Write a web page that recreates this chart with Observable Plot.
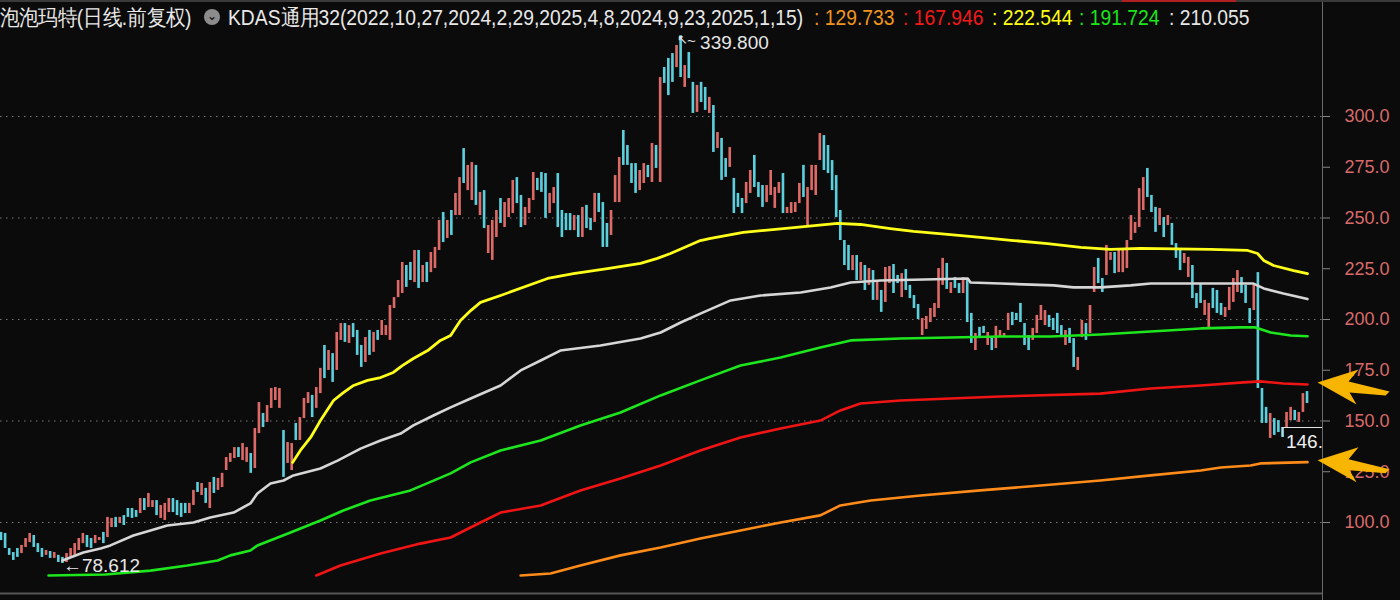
<!DOCTYPE html>
<html><head><meta charset="utf-8">
<script src="https://cdn.jsdelivr.net/npm/d3@7"></script>
<script src="https://cdn.jsdelivr.net/npm/@observablehq/plot@0.6"></script>
<style>
html,body{margin:0;padding:0;background:#0b0b0b;}
body{width:1400px;height:600px;overflow:hidden;position:relative;font-family:"Liberation Sans",Arial,sans-serif;}
#chart{position:absolute;left:0;top:0;}
#title span.t{position:absolute;top:6px;font-size:19.3px;line-height:22px;white-space:nowrap;transform:scaleY(1.12);transform-origin:0 0;}
#title span.s{font-size:19.3px;letter-spacing:0.2px;}
#icon{position:absolute;left:204px;top:9px;width:16px;height:16px;border-radius:50%;background:#8c8c8c;color:#1a1a1a;font-size:12px;line-height:14px;text-align:center;font-family:"DejaVu Sans",sans-serif;font-weight:bold;}
#topbar{position:absolute;left:0;top:0;width:1400px;height:2px;background:#3a3a3a;}
#topbar i{position:absolute;left:1122px;top:0;width:114px;height:2px;background:#b02020;}
</style></head><body>
<div id="chart"></div>
<div id="topbar"><i></i></div>
<div id="title"></div>
<script>
// ---- title texts ----
const stockTitle = "泡泡玛特(日线.前复权)";
const indicatorTitle = "KDAS通用32(2022,10,27,2024,2,29,2025,4,8,2024,9,23,2025,1,15)";
const lineLastLabels = ["129.733", "167.946", "222.544", "191.724", "210.055"];
const lineColors = ["#f0961e", "#f01a1a", "#ffff10", "#1ae61a", "#e6e6e6"];

// ---- candles (open / close), one per trading day ----
const opens = [95.1,94.6,87.2,85.2,87.2,84.7,87.7,90.1,93.6,89.6,87.2,83.8,85.7,82.3,83.8,82.8,80.3,82.8,83.8,86.2,
89.6,93.6,92.1,89.6,91.1,95.1,92.6,97.5,102.5,99.5,103.4,106.9,106.9,105.9,104.4,111.8,107.4,107.4,110.8,102.0,
101.0,104.9,111.8,110.8,109.4,109.4,104.4,108.4,119.7,113.3,116.8,106.9,122.2,115.8,117.2,125.6,129.6,131.5,136.9,130.5,
129.6,134.0,126.6,143.8,153.7,149.3,156.2,160.1,156.2,145.3,129.1,125.6,148.8,140.4,151.2,158.6,162.6,156.2,163.5,187.2,
174.9,183.2,174.9,189.7,198.0,188.2,198.0,194.6,187.2,178.8,194.6,183.8,194.6,192.1,192.1,189.7,205.4,210.8,212.8,226.6,
228.1,218.2,234.0,218.2,228.1,223.1,225.1,234.0,252.7,239.9,253.7,251.2,251.2,284.2,263.5,258.6,275.9,251.2,263.5,232.5,
229.1,240.4,259.6,245.3,250.2,252.2,269.9,261.1,246.3,252.2,258.6,269.5,272.4,271.9,252.2,257.1,271.9,253.7,252.2,252.2,
243.8,251.2,240.4,256.2,249.8,247.8,262.1,257.6,247.3,241.4,257.6,257.6,293.1,285.7,276.8,276.8,263.5,267.0,275.9,267.5,
285.7,267.5,324.1,328.6,331.0,324.1,339.8,314.3,331.5,316.8,302.0,316.8,314.3,301.5,305.4,284.2,289.2,279.3,274.9,269.5,
262.1,259.6,257.1,262.1,280.8,267.5,266.0,257.6,261.1,254.7,262.1,271.9,252.2,252.2,252.7,257.1,275.9,246.3,263.5,261.1,
278.3,290.6,285.7,278.3,270.9,253.7,238.9,236.5,224.1,231.5,219.2,226.6,216.8,224.1,209.4,214.3,208.4,217.7,227.1,221.7,
210.8,224.6,216.8,211.8,207.4,192.1,195.1,198.5,201.0,205.4,216.8,227.6,212.8,220.7,217.7,212.8,220.2,203.0,184.7,196.1,
196.6,187.2,191.1,185.7,191.1,191.1,194.6,203.5,203.0,207.9,198.0,192.1,189.7,193.1,199.5,197.0,202.0,200.5,203.0,197.0,
187.2,195.6,190.6,174.9,191.1,198.0,193.1,213.3,230.1,220.2,221.7,229.1,233.0,223.1,223.1,225.1,238.9,242.4,245.3,253.7,
274.4,261.1,255.2,246.3,250.2,246.3,247.3,237.4,234.0,227.6,220.7,226.6,212.8,217.7,202.0,196.1,215.3,214.3,207.9,201.0,
204.4,208.4,213.3,220.7,216.8,205.4,204.4,223.1,166.0,156.7,141.4,151.2,150.2,146.8,146.8,150.2,155.2,149.3,154.2,164.5];
const closes = [91.1,87.2,83.8,81.3,82.8,88.7,92.1,94.6,87.7,85.2,82.8,86.2,82.3,85.2,80.3,79.8,84.7,87.2,89.6,92.1,
94.6,87.7,87.2,93.6,92.6,89.6,102.5,102.0,97.5,102.5,98.5,102.5,102.0,102.5,111.8,105.9,114.3,110.8,103.4,108.4,
109.4,111.8,104.9,103.4,102.5,104.4,109.4,115.8,114.8,119.2,109.4,119.7,114.3,121.7,124.2,132.0,134.0,136.9,132.0,138.9,
136.9,124.2,146.3,159.1,146.8,157.6,166.0,166.5,166.0,122.2,139.4,138.9,140.4,151.7,161.1,164.0,151.7,166.5,175.9,170.9,
184.7,169.0,193.6,198.0,188.7,197.0,191.1,182.3,176.4,191.1,182.3,193.6,189.7,199.5,197.0,206.9,210.8,219.2,228.1,215.8,
219.2,234.0,215.3,226.6,218.2,233.0,235.5,248.8,237.9,248.8,241.4,262.1,269.9,267.0,275.9,277.3,256.2,262.6,244.8,246.3,
248.8,253.7,247.3,257.6,259.6,268.5,257.1,245.3,255.2,259.6,272.4,263.5,262.6,249.8,262.1,265.0,245.3,240.4,243.8,243.8,
251.2,240.4,255.2,244.8,243.8,262.1,252.7,235.5,235.5,253.7,270.9,279.8,275.9,275.9,267.0,262.1,273.4,276.8,269.9,286.7,
274.4,319.2,316.3,310.3,316.8,335.0,319.2,325.1,318.7,301.5,315.3,306.9,303.0,309.4,282.3,292.1,268.5,270.0,284.7,252.2,
255.2,252.2,267.5,273.4,265.0,260.1,255.2,266.0,273.4,265.0,267.5,252.2,255.2,257.6,257.6,267.0,260.1,265.0,275.9,275.9,
291.6,273.4,271.9,263.5,250.2,238.9,226.6,224.1,231.5,219.2,228.1,214.3,225.1,209.4,219.2,203.5,225.6,226.1,212.8,217.7,
222.6,214.3,210.3,205.4,200.0,200.5,201.5,205.4,207.9,225.1,230.1,214.8,218.2,215.3,212.8,220.7,198.5,188.2,193.1,191.1,
193.1,193.6,184.7,196.6,194.6,193.1,203.0,197.0,199.5,198.5,187.2,184.7,195.6,202.0,206.9,204.4,196.1,194.6,193.1,191.1,
194.6,188.2,176.4,181.3,199.5,189.7,206.9,225.6,217.7,213.3,236.5,233.0,222.6,234.0,234.0,238.9,251.2,247.8,264.5,269.9,
260.1,252.7,242.9,254.7,240.4,251.2,236.5,230.1,224.1,232.5,230.6,210.3,205.4,207.9,209.4,207.9,205.4,203.0,202.0,205.9,
215.8,220.2,224.1,212.8,207.9,198.0,216.8,166.0,148.8,148.8,153.7,142.9,144.3,141.9,154.2,156.7,150.2,154.2,163.5,158.6];

// ---- KDAS anchored lines: sample index / value ----
const orangeIdx = [126.8,134.1,141.4,151.2,161.0,170.7,180.5,190.3,200.0,204.9,212.3,224.5,239.1,253.8,268.4,280.7,292.9,297.8,305.1,307.5,319];
const orangeVal = [73.9,74.9,78.8,83.8,87.7,92.1,96.1,100.0,103.5,108.4,110.8,113.3,115.8,118.2,120.7,123.2,125.6,127.1,128.1,129.1,129.733];
const redIdx = [76.9,82.8,92.6,102.3,109.7,117.0,121.9,131.7,141.4,151.2,161.0,170.7,180.5,190.3,200.0,204.9,209.8,219.6,244.0,268.4,280.7,292.9,303.4,307.5,313.1,319];
const redVal = [73.9,78.8,84.7,89.6,92.6,100.0,104.9,108.4,115.8,121.7,128.1,135.5,141.9,146.3,150.2,155.2,158.6,160.1,162.1,163.5,166.0,167.5,169.0,169.5,168.5,167.946];
const yellowIdx = [71.1,73.0,75.5,77.9,81.1,83.5,86.0,89.4,92.6,95.7,97.9,100.6,104.1,107.2,109.7,112.1,114.6,117.0,121.9,133.4,139.7,148.0,156.1,160.2,163.4,170.7,173.2,181.2,193.5,204.2,209.8,217.1,222.8,231.1,239.1,247.2,255.5,263.6,270.9,278.2,295.3,304.4,306.8,308.3,310.7,315.6,319];
const yellowVal = [129.6,135.5,141.9,150.2,160.1,164.0,167.5,170.0,171.4,173.9,177.3,180.8,184.7,189.7,192.1,199.5,204.4,208.4,211.8,220.2,222.6,225.1,227.6,230.1,232.5,238.9,239.9,242.9,245.3,247.3,246.8,244.8,243.4,241.9,240.4,238.9,237.4,235.5,234.5,235.0,234.5,234.0,232.5,229.1,226.6,224.1,222.544];
const greenIdx = [11.5,25.4,36.4,45.4,52.8,55.9,60.8,62.5,70.6,77.9,83.5,90.1,99.9,109.7,114.6,121.9,131.7,141.4,151.2,161.0,170.7,180.5,190.3,200.0,207.4,219.6,231.8,244.0,256.2,268.4,280.7,292.9,302.6,306.3,310.0,314.9,319];
const greenVal = [73.9,74.4,76.3,78.8,81.3,83.8,86.2,88.7,95.1,101.0,105.9,110.8,115.8,124.2,129.6,135.5,140.4,147.8,154.2,162.6,170.0,177.3,181.3,186.2,189.7,190.6,191.1,191.6,191.6,192.6,194.1,195.6,196.1,196.1,193.6,192.1,191.724];
const whiteIdx = [14.9,20.0,24.2,26.6,32.2,36.4,40.5,46.9,51.0,56.7,60.8,62.5,65.7,68.9,71.3,77.9,82.1,87.7,92.6,97.5,100.6,105.5,109.7,114.6,121.9,126.8,131.7,136.5,146.3,156.1,161.0,165.9,170.7,178.1,185.4,195.2,202.5,207.4,214.7,236.0,236.7,244.0,257.0,261.8,268.4,275.8,280.7,305.8,308.3,313.1,319];
const whiteVal = [81.3,85.2,87.2,88.7,93.6,96.1,98.5,100.0,102.5,104.9,109.4,114.3,119.2,120.7,123.2,126.6,130.5,136.4,140.4,143.8,147.8,152.7,156.7,161.1,167.5,174.9,179.8,184.7,187.2,190.6,193.6,198.5,202.9,209.4,211.8,213.3,215.8,218.2,219.2,220.2,218.2,217.7,216.8,215.8,215.8,216.8,217.7,217.7,215.3,212.8,210.055];

// ---- marked extremes ----
const lowIndex = 15, lowValue = 78.612, lowLabel = "←78.612";
const highIndex = 166, highValue = 339.8, highLabel = "339.800";
const recentLowIndex = 313, recentLowValue = 146.8, recentLowBottom = 141.9, recentLowLabel = "146.";

// ---- axis ----
const yTicks = [100, 125, 150, 175, 200, 225, 250, 275, 300];
const gridValues = [100, 150, 200, 250, 300];
const yDomain = [65.02, 342.36];
const xDomain = [-0.244, 322.66];

// ---- build ----
const candles = opens.map((o, i) => ({i, o, c: closes[i]}));
const zipLine = (idx, val) => idx.map((x, k) => ({x, y: val[k]}));
const lines = {
  orange: zipLine(orangeIdx, orangeVal),
  red: zipLine(redIdx, redVal),
  yellow: zipLine(yellowIdx, yellowVal),
  green: zipLine(greenIdx, greenVal),
  white: zipLine(whiteIdx, whiteVal)
};
const lastIdx = opens.length - 1;
const arrowTargets = [{x: lastIdx + 11, y: redVal[redVal.length - 1]}, {x: lastIdx + 11, y: orangeVal[orangeVal.length - 1]}];

const arrowSymbol = {
  draw(ctx) {
    ctx.moveTo(-35, -2);
    ctx.lineTo(6, -15);
    ctx.lineTo(-4, -3);
    ctx.lineTo(37, 7);
    ctx.lineTo(33, 11);
    ctx.lineTo(-3, 8);
    ctx.lineTo(4, 20);
    ctx.closePath();
  }
};

const up = "#dd6a66", down = "#5ccfdc";
const font = '"Liberation Sans",Arial,sans-serif';

const plot = Plot.plot({
  width: 1400, height: 600,
  marginLeft: 0, marginRight: 78, marginTop: 30, marginBottom: 7,
  style: {background: "#0b0b0b", fontFamily: font},
  x: {domain: xDomain, axis: null},
  y: {domain: yDomain, axis: null},
  marks: [
    Plot.ruleY(gridValues, {stroke: "#7a7a7a", strokeDasharray: "1.5,4.5", strokeWidth: 1}),
    Plot.ruleY([yDomain[0]], {stroke: "#555", strokeWidth: 2}),
    Plot.ruleX([xDomain[1]], {stroke: "#6a6a6a", y1: yDomain[0] - 5, y2: yDomain[1] + 16}),
    Plot.axisY(yTicks, {anchor: "right", tickSize: 7, tickPadding: 15, tickFormat: d => d.toFixed(1),
      stroke: "#888", fill: "#d96a6a", fontSize: 18, fontFamily: font}),
    Plot.rect(candles, {x1: d => d.i - 0.32, x2: d => d.i + 0.32, y1: "o", y2: "c",
      fill: d => d.c >= d.o ? up : down}),
    Plot.line(lines.orange, {x: "x", y: "y", stroke: "#ff8c1a", strokeWidth: 2.6}),
    Plot.line(lines.red, {x: "x", y: "y", stroke: "#f01414", strokeWidth: 2.6}),
    Plot.line(lines.green, {x: "x", y: "y", stroke: "#1ee61e", strokeWidth: 2.6}),
    Plot.line(lines.white, {x: "x", y: "y", stroke: "#d6d6d6", strokeWidth: 2.6}),
    Plot.line(lines.yellow, {x: "x", y: "y", stroke: "#ffff1a", strokeWidth: 2.8}),
    Plot.text([lowLabel], {x: lowIndex, y: lowValue, dx: 0, textAnchor: "start", fill: "#e6e6e6", fontSize: 19, fontFamily: font}),
    Plot.text(["↖"], {x: highIndex, y: highValue, dx: -4, dy: 4, textAnchor: "start", fill: "#e6e6e6", fontSize: 13, fontFamily: font}),
    Plot.text(["~"], {x: highIndex, y: highValue, dx: 6, dy: 5, textAnchor: "start", fill: "#e6e6e6", fontSize: 15, fontFamily: font}),
    Plot.text([highLabel], {x: highIndex, y: highValue, dx: 19, dy: 7, textAnchor: "start", fill: "#e6e6e6", fontSize: 19, fontFamily: font}),
    Plot.ruleY([recentLowValue], {x1: recentLowIndex, x2: xDomain[1], stroke: "#e6e6e6", strokeWidth: 1}),
    Plot.ruleX([recentLowIndex], {y1: recentLowValue, y2: recentLowBottom, stroke: "#e6e6e6", strokeWidth: 1}),
    Plot.text([recentLowLabel], {x: recentLowIndex, y: recentLowBottom, dx: 3, dy: 4, textAnchor: "start", fill: "#f0f0f0", fontSize: 19, fontFamily: font}),
    Plot.dot(arrowTargets, {x: "x", y: "y", symbol: arrowSymbol, fill: "#f7b500", stroke: "none", r: 5})
  ]
});
document.getElementById("chart").appendChild(plot);

// ---- title line ----
const title = document.getElementById("title");
function addSpan(text, left, color, cls) {
  const s = document.createElement("span");
  s.className = "t" + (cls ? " " + cls : ""); s.textContent = text; s.style.left = left + "px"; s.style.color = color;
  title.appendChild(s); return s;
}
addSpan(stockTitle, 0, "#e8e8e8", "s");
const icon = document.createElement("div"); icon.id = "icon"; icon.textContent = "⌄"; title.appendChild(icon);
addSpan(indicatorTitle, 228, "#e8e8e8");
const valueLefts = [814, 903, 992, 1079, 1169];
lineLastLabels.forEach((v, k) => addSpan(": " + v, valueLefts[k], lineColors[k]));
</script>
</body></html>
